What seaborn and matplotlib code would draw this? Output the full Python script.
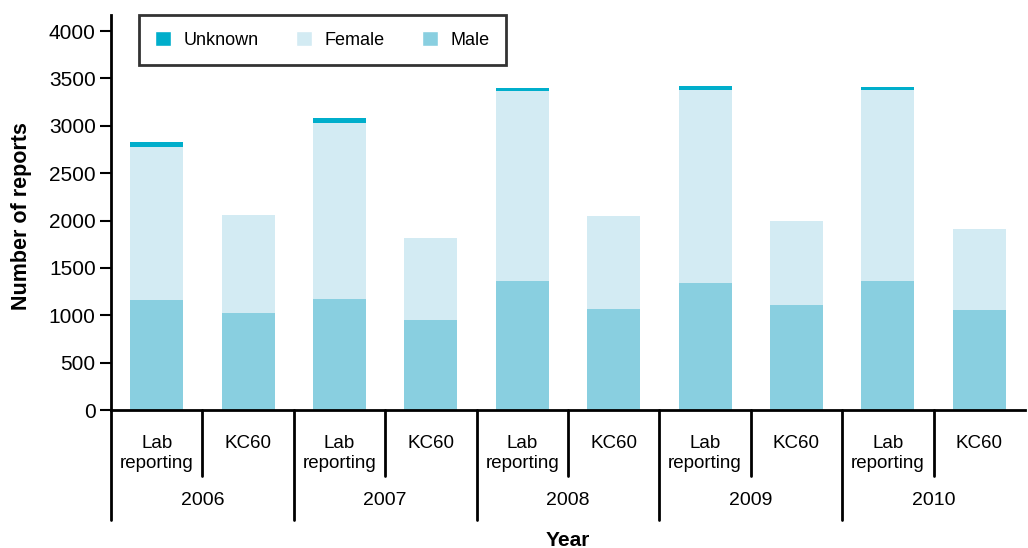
import matplotlib
matplotlib.use("Agg")
import matplotlib.pyplot as plt
import seaborn as sns
import pandas as pd
from matplotlib.patches import Patch
from matplotlib.lines import Line2D

years = ["2006", "2007", "2008", "2009", "2010"]
sources = ["Lab\nreporting", "KC60"]
male = [1160, 1023, 1170, 950, 1362, 1066, 1340, 1107, 1362, 1057]
female = [1615, 1034, 1855, 865, 2008, 981, 2036, 887, 2014, 853]
unknown = [53, 0, 55, 0, 27, 0, 42, 0, 29, 0]

categories = [f"{y}-{i}" for y in years for i, s in enumerate(sources)]
labels = [s for y in years for s in sources]

c_unknown = "#00AECB"
c_female = "#D3EBF3"
c_male = "#89CFE0"

sns.set_theme(style="white")
plt.rcParams['font.family'] = ['Liberation Sans', 'DejaVu Sans']
plt.rcParams['text.color'] = 'black'
plt.rcParams['axes.labelcolor'] = 'black'
plt.rcParams['xtick.color'] = 'black'
plt.rcParams['ytick.color'] = 'black'

df = pd.DataFrame({"cat": categories, "male": male, "female": female, "unknown": unknown})
df["mf"] = df["male"] + df["female"]
df["total"] = df["mf"] + df["unknown"]

fig = plt.figure(figsize=(10.28, 5.48), dpi=100)
ax = fig.add_axes([0.108, 0.2518, 0.889, 0.7208])

w = 0.58
sns.barplot(data=df, x="cat", y="total", color=c_unknown, width=w, ax=ax, saturation=1, linewidth=0)
sns.barplot(data=df, x="cat", y="mf", color=c_female, width=w, ax=ax, saturation=1, linewidth=0)
sns.barplot(data=df, x="cat", y="male", color=c_male, width=w, ax=ax, saturation=1, linewidth=0)

ax.set_ylim(0, 4170)
ax.set_xlim(-0.5, len(categories) - 0.5)
ax.set_yticks(range(0, 4001, 500))
ax.set_yticklabels([str(v) for v in range(0, 4001, 500)], fontsize=15)
ax.set_xticks([])
ax.set_xlabel("")
ax.set_ylabel("Number of reports", fontsize=15.5, fontweight="bold")
ax.yaxis.set_label_coords(-0.087, 0.49)

for s in ["top", "right"]:
    ax.spines[s].set_visible(False)
for s in ["left", "bottom"]:
    ax.spines[s].set_linewidth(2)
    ax.spines[s].set_color("black")
ax.tick_params(axis="y", direction="out", length=8, width=1.5, color="black", left=True, pad=3)

trans = ax.get_xaxis_transform()
for i, lab in enumerate(labels):
    ax.text(i, -0.062, lab, transform=trans, ha="center", va="top", fontsize=13.5, linespacing=1.25)
for j, y in enumerate(years):
    ax.text(2 * j + 0.5, -0.228, y, transform=trans, ha="center", va="center", fontsize=14)
    ax.add_line(Line2D([2 * j + 0.5, 2 * j + 0.5], [0, -0.167], transform=trans, color="black", lw=2, clip_on=False))
    ax.add_line(Line2D([2 * j - 0.5, 2 * j - 0.5], [0, -0.278], transform=trans, color="black", lw=2, clip_on=False))

ax.text(0.5, -0.33, "Year", transform=ax.transAxes, ha="center", va="center", fontsize=15, fontweight="bold")

handles = [Patch(facecolor=c_unknown, label="Unknown"),
           Patch(facecolor=c_female, label="Female"),
           Patch(facecolor=c_male, label="Male")]
leg = ax.legend(handles=handles, loc="upper left", bbox_to_anchor=(0.0306, 1.0), ncol=3,
                frameon=True, fancybox=False, borderaxespad=0, fontsize=13,
                handlelength=0.85, handleheight=0.85, columnspacing=2.1, handletextpad=0.7,
                borderpad=0.9)
leg.get_frame().set_edgecolor("black")
leg.get_frame().set_linewidth(2)

fig.savefig("out.png", dpi=100)
